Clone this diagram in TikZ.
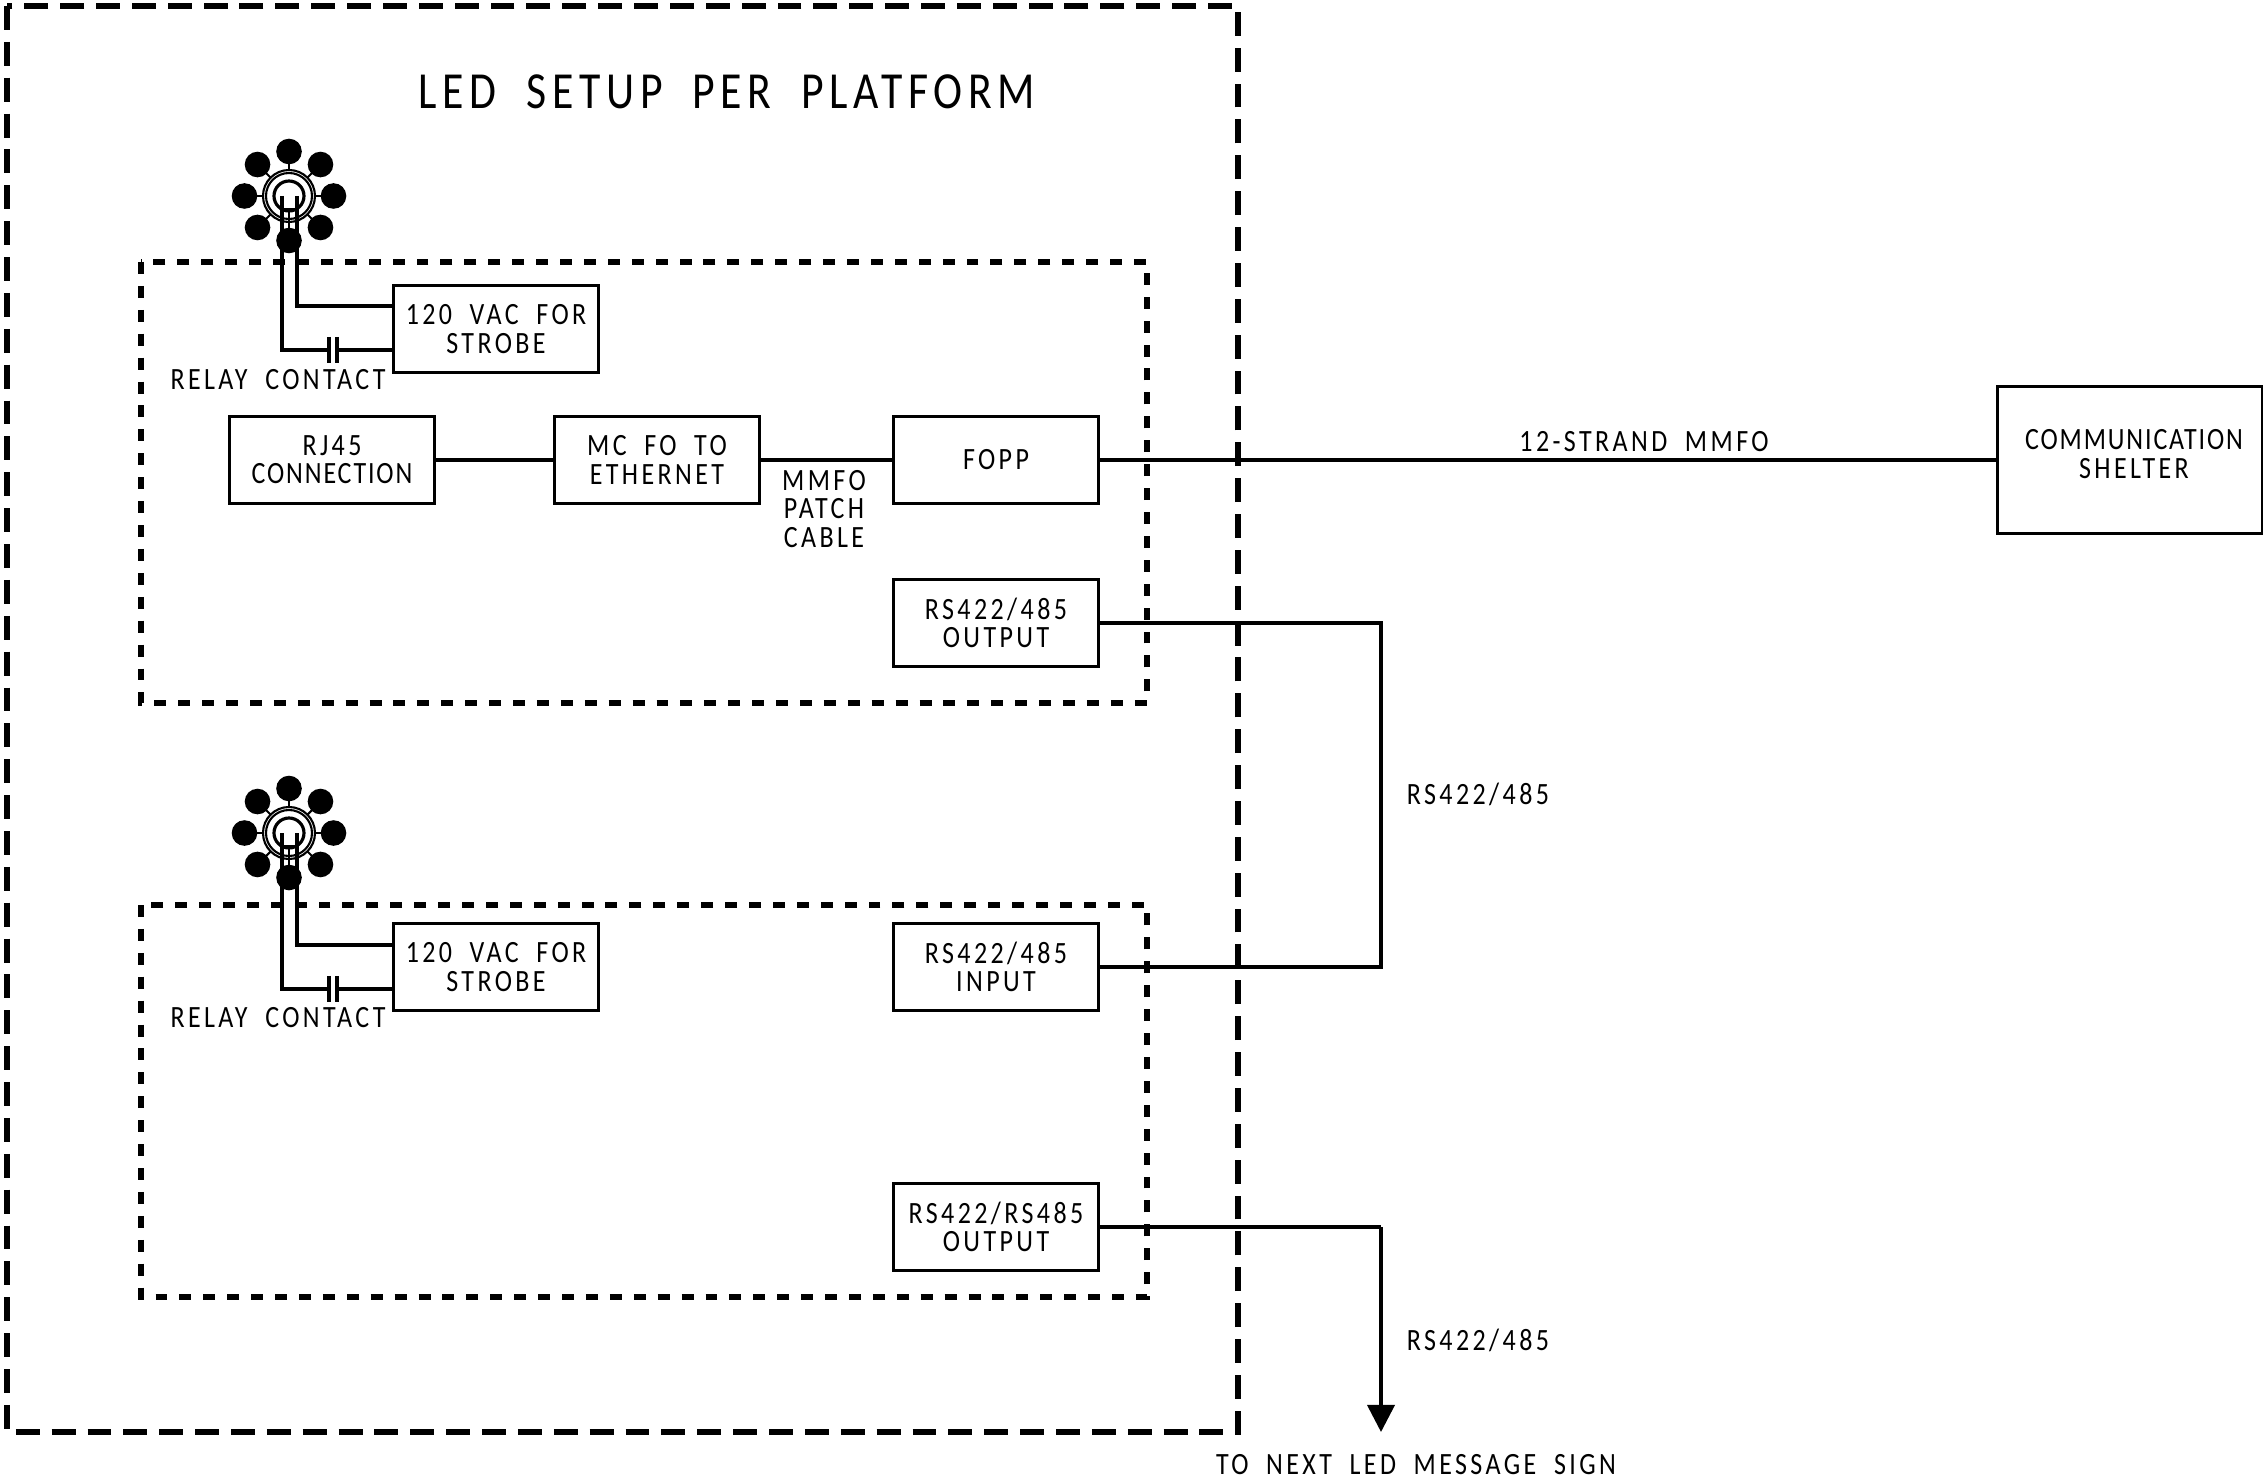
\documentclass[tikz,border=0pt]{standalone}
\usepackage{fontspec}
\setmainfont[LetterSpace=11,FakeStretch=.84,WordSpace=1.9]{Carlito}
\usetikzlibrary{arrows.meta, positioning}
\newcommand{\tightword}[1]{{\addfontfeature{LetterSpace=6}#1}}

\tikzset{
  platformbox/.style={draw, line width=1.6pt, dash pattern=on 6.8pt off 3.4pt},
  zonebox/.style={draw, line width=1.5pt, dash pattern=on 3.4pt off 3.4pt},
  unitbox/.style={draw, line width=.8pt, inner sep=0pt, minimum width=2.05cm,
    minimum height=.87cm, align=center, font=\fontsize{8.8}{8}\selectfont},
  labeltext/.style={inner sep=0pt, align=center, font=\fontsize{8.8}{8}\selectfont},
  wire/.style={line width=1.05pt},
  ledlamp/.pic={
    % Ring of lamps
    \foreach \a in {0,45,...,315} {
      \draw[line width=.6pt] (0,0) -- (\a:40);
      \fill (\a:44.5) circle (12.8);
    }
    \fill[white, draw=black, line width=.6pt] (0,0) circle (26);
    \draw[line width=.6pt] (0,0) circle (23);
    \draw[line width=.9pt] (0,0) circle (15);
    \draw[line width=.5pt] (0,0) ++(0,12) -- (0,42);
    \draw[line width=.5pt] (-8,13) -- (8,13);
  }
}

\begin{document}
\begin{tikzpicture}[x=.01cm, y=-.01cm]
\useasboundingbox (0,0) rectangle (2263,1479);

% Dashed outlines
\draw[platformbox] (7,6) rectangle (1238,1432);
\draw[zonebox] (141,262) rectangle (1147,703);
\draw[zonebox] (141,905) rectangle (1147,1297);

\node[labeltext, font=\fontsize{14.8}{18}\selectfont] (title) at (727,92) {LED SETUP PER PLATFORM};

% Top platform
\pic at (289,196) {ledlamp};
\node[unitbox] (strobetop) at (496,329) {120 VAC FOR\\STROBE};
\node[unitbox] (rjconn) at (332,460) {RJ45\\\tightword{CONNECTION}};
\node[unitbox] (mcfo) at (657,460) {MC FO TO\\ETHERNET};
\node[unitbox] (fopp) at (996,460) {FOPP};
\node[unitbox] (rsouttop) at (996,623) {RS422/485\\OUTPUT};
\node[labeltext] (relaytop) at (278,380) {RELAY CONTACT};
\node[labeltext] (patch) at (824,509) {MMFO\\PATCH\\CABLE};

% Bottom platform
\pic at (289,833) {ledlamp};
\node[unitbox] (strobelow) at (496,967) {120 VAC FOR\\STROBE};
\node[unitbox] (rsin) at (996,967) {RS422/485\\INPUT};
\node[unitbox] (rsoutlow) at (996,1227) {RS422/RS485\\OUTPUT};
\node[labeltext] (relaylow) at (278,1018) {RELAY CONTACT};

% Outside
\node[unitbox, minimum width=2.65cm, minimum height=1.47cm] (shelter) at (2130,460) {};
\node[labeltext] (shelterlabel) at (2134,454) {\tightword{COMMUNICATION}\\SHELTER};
\node[labeltext] (strand) at (1644,442) {12-STRAND MMFO};
\node[labeltext] (rsmid) at (1478,794) {RS422/485};
\node[labeltext] (rsnext) at (1478,1340) {RS422/485};
\node[labeltext] (nextsign) at (1416,1465) {TO NEXT LED MESSAGE SIGN};

% Fibre and serial runs
\draw[wire] (rjconn) -- (mcfo);
\draw[wire] (mcfo) -- (fopp);
\draw[wire] (fopp) -- (shelter);
\coordinate (bendA) at (1381,623);
\coordinate (bendB) at (1381,967);
\coordinate (bendC) at (1381,1227);
\coordinate (nextend) at (1381,1432);
\draw[wire] (rsouttop) -- (bendA) -- (bendB) -- (rsin);
\draw[wire] (rsoutlow) -- (bendC);
\draw[wire, -{Triangle[length=.27cm, width=.27cm]}] (bendC) -- (nextend);

% Strobe feeds, top
\coordinate (feedtopA) at (297,196);
\coordinate (feedtopB) at (297,306);
\coordinate (feedtopC) at (282,196);
\coordinate (feedtopD) at (282,350);
\coordinate (platetopA) at (329,350);
\coordinate (platetopB) at (337,350);
\draw[wire] (feedtopA) -- (feedtopB) -- (strobetop.west |- feedtopB);
\draw[wire] (feedtopC) -- (feedtopD) -- (platetopA);
\draw[wire] (platetopB) -- (strobetop.west |- platetopB);
\draw[wire] ([yshift=.13cm]platetopA) -- ([yshift=-.13cm]platetopA);
\draw[wire] ([yshift=.13cm]platetopB) -- ([yshift=-.13cm]platetopB);

% Strobe feeds, bottom
\coordinate (feedlowA) at (297,833);
\coordinate (feedlowB) at (297,945);
\coordinate (feedlowC) at (282,833);
\coordinate (feedlowD) at (282,989);
\coordinate (platelowA) at (329,989);
\coordinate (platelowB) at (337,989);
\draw[wire] (feedlowA) -- (feedlowB) -- (strobelow.west |- feedlowB);
\draw[wire] (feedlowC) -- (feedlowD) -- (platelowA);
\draw[wire] (platelowB) -- (strobelow.west |- platelowB);
\draw[wire] ([yshift=.13cm]platelowA) -- ([yshift=-.13cm]platelowA);
\draw[wire] ([yshift=.13cm]platelowB) -- ([yshift=-.13cm]platelowB);
\end{tikzpicture}
\end{document}
